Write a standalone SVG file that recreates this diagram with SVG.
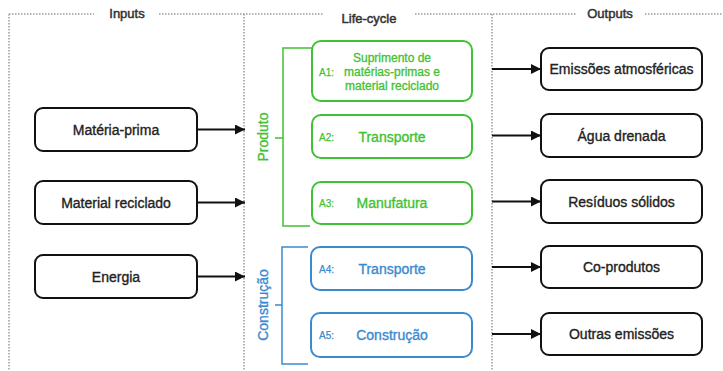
<svg xmlns="http://www.w3.org/2000/svg" width="723" height="371" viewBox="0 0 723 371">
<style>
.dot{stroke:#9a9a9a;stroke-width:1.5;stroke-dasharray:1.5 1.5;fill:none}
.title{font-family:"Liberation Sans",Arial,sans-serif;font-size:13px;fill:#333;stroke:#333;stroke-width:0.5;text-anchor:middle}
.bk{fill:#fff;stroke:#111;stroke-width:2}
.gr{fill:#fff;stroke:#3fc233;stroke-width:2}
.bl{fill:#fff;stroke:#3a8ad0;stroke-width:2}
.t{font-family:"Liberation Sans",Arial,sans-serif;font-size:14px;fill:#222;stroke:#222;stroke-width:0.35;text-anchor:middle;dominant-baseline:central}
.tg{font-family:"Liberation Sans",Arial,sans-serif;font-size:14px;fill:#3fc233;stroke:#3fc233;stroke-width:0.35;text-anchor:middle;dominant-baseline:central}
.tb{font-family:"Liberation Sans",Arial,sans-serif;font-size:14px;fill:#3a8ad0;stroke:#3a8ad0;stroke-width:0.35;text-anchor:middle;dominant-baseline:central}
.sg{font-family:"Liberation Sans",Arial,sans-serif;font-size:12px;fill:#3fc233;stroke:#3fc233;stroke-width:0.3;text-anchor:middle;dominant-baseline:central}
.lg{font-family:"Liberation Sans",Arial,sans-serif;font-size:10px;fill:#3fc233;stroke:#3fc233;stroke-width:0.25;dominant-baseline:central}
.lb{font-family:"Liberation Sans",Arial,sans-serif;font-size:10px;fill:#3a8ad0;stroke:#3a8ad0;stroke-width:0.25;dominant-baseline:central}
.conn{stroke:#111;stroke-width:2;fill:none;marker-end:url(#ah)}
</style>
<defs>
<marker id="ah" viewBox="0 0 10 10" refX="10" refY="5" markerWidth="5" markerHeight="5" orient="auto" markerUnits="strokeWidth">
<path d="M0,0 L10,5 L0,10 z" fill="#111"/>
</marker>
</defs>
<rect width="723" height="371" fill="#fff"/>
<g id="frame">
<path class="dot" d="M9,14 H94 M159,14 H323 M415,14 H576 M645,14 H723"/>
<path class="dot" d="M9,14 V371 M244,14 V371 M492,14 V371"/>
<text class="title" x="127" y="18">Inputs</text>
<text class="title" x="369" y="23">Life-cycle</text>
<text class="title" x="610" y="18">Outputs</text>
</g>
<g id="in1"><rect class="bk" x="35" y="108" width="162" height="43" rx="8"/><text class="t" x="116" y="129.5">Matéria-prima</text></g>
<g id="in2"><rect class="bk" x="35" y="181" width="162" height="43" rx="8"/><text class="t" x="116" y="202.5">Material reciclado</text></g>
<g id="in3"><rect class="bk" x="35" y="255" width="162" height="43" rx="8"/><text class="t" x="116" y="276.5">Energia</text></g>
<g id="produto">
<path d="M312,48 H283 V226 H310 M283,138 H275" stroke="#3fc233" stroke-width="1.5" fill="none"/>
<text class="tg" transform="translate(263,137) rotate(-90)" x="0" y="0">Produto</text>
</g>
<g id="construcao">
<path d="M308,247 H282 V364 H308 M282,305 H275" stroke="#3a8ad0" stroke-width="1.5" fill="none"/>
<text class="tb" transform="translate(263,305) rotate(-90)" x="0" y="0">Construção</text>
</g>
<g id="a1"><rect class="gr" x="312" y="41" width="160" height="60" rx="9"/><text class="lg" x="319" y="72">A1:</text><text class="sg" x="392" y="58">Suprimento de</text><text class="sg" x="392" y="72">matérias-primas e</text><text class="sg" x="392" y="86">material reciclado</text></g>
<g id="a2"><rect class="gr" x="312" y="115" width="160" height="43" rx="9"/><text class="lg" x="319" y="137">A2:</text><text class="tg" x="392" y="137">Transporte</text></g>
<g id="a3"><rect class="gr" x="312" y="182" width="160" height="42" rx="9"/><text class="lg" x="319" y="203">A3:</text><text class="tg" x="392" y="203">Manufatura</text></g>
<g id="a4"><rect class="bl" x="311" y="247" width="161" height="43" rx="9"/><text class="lb" x="319" y="269">A4:</text><text class="tb" x="392" y="269">Transporte</text></g>
<g id="a5"><rect class="bl" x="311" y="313" width="161" height="44" rx="9"/><text class="lb" x="319" y="335">A5:</text><text class="tb" x="392" y="335">Construção</text></g>
<g id="out1"><rect class="bk" x="541" y="48" width="161" height="42" rx="8"/><text class="t" x="621.5" y="69">Emissões atmosféricas</text></g>
<g id="out2"><rect class="bk" x="541" y="114" width="161" height="43" rx="8"/><text class="t" x="621.5" y="135.5">Água drenada</text></g>
<g id="out3"><rect class="bk" x="541" y="180" width="161" height="43" rx="8"/><text class="t" x="621.5" y="201.5">Resíduos sólidos</text></g>
<g id="out4"><rect class="bk" x="541" y="246" width="161" height="42" rx="8"/><text class="t" x="621.5" y="267">Co-produtos</text></g>
<g id="out5"><rect class="bk" x="541" y="313" width="161" height="42" rx="8"/><text class="t" x="621.5" y="334">Outras emissões</text></g>
<g id="connectors">
<path class="conn" d="M197,129.5 H245"/>
<path class="conn" d="M197,202.5 H245"/>
<path class="conn" d="M197,276.5 H245"/>
<path class="conn" d="M492,69 H541"/>
<path class="conn" d="M492,135.5 H541"/>
<path class="conn" d="M492,201.5 H541"/>
<path class="conn" d="M492,267 H541"/>
<path class="conn" d="M492,334 H541"/>
</g>
</svg>
